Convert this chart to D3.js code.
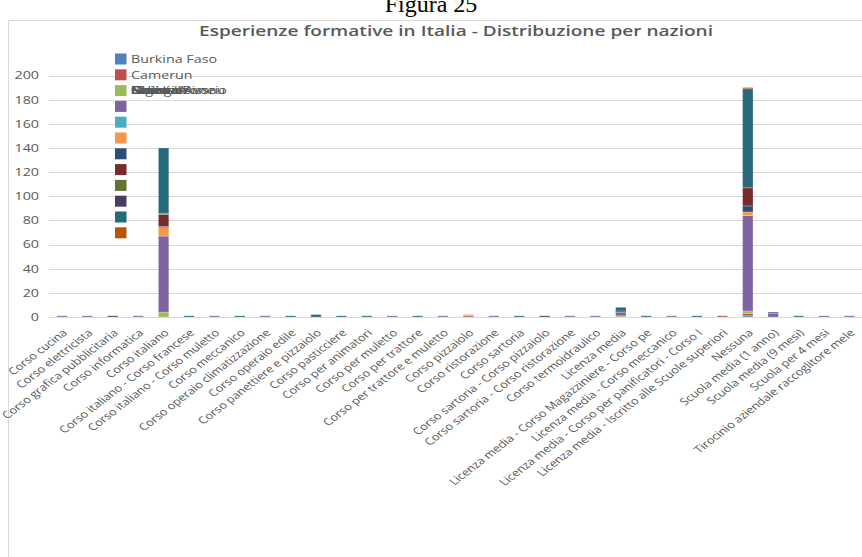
<!DOCTYPE html>
<html>
<head>
<meta charset="utf-8">
<script src="https://cdn.jsdelivr.net/npm/d3@7/dist/d3.min.js"></script>
<style>
  html, body { margin: 0; padding: 0; background: #fff; }
  svg { display: block; }
  text { font-family: "Open Sans", sans-serif; fill: #595959; }
</style>
</head>
<body>
<svg id="chart" width="862" height="557"></svg>
<script>
// Training experiences in Italy, stacked by nationality
const categories = [
  "Corso cucina", "Corso elettricista", "Corso grafica pubblicitaria", "Corso informatica",
  "Corso italiano", "Corso italiano - Corso francese", "Corso italiano - Corso muletto",
  "Corso meccanico", "Corso operaio climatizzazione", "Corso operaio edile",
  "Corso panettiere e pizzaiolo", "Corso pasticciere", "Corso per animatori",
  "Corso per muletto", "Corso per trattore", "Corso per trattore e muletto",
  "Corso pizzaiolo", "Corso ristorazione", "Corso sartoria",
  "Corso sartoria - Corso pizzaiolo", "Corso sartoria - Corso ristorazione",
  "Corso termoidraulico", "Licenza media", "Licenza media - Corso Magazziniere - Corso pe",
  "Licenza media - Corso meccanico", "Licenza media - Corso per panificatori - Corso I",
  "Licenza media - Iscritto alle Scuole superiori", "Nessuna", "Scuola media (1 anno)",
  "Scuola media (9 mesi)", "Scuola per 4 mesi", "Tirocinio aziendale raccoglitore mele"
];

const seriesNames = [
  "Burkina Faso", "Camerun", "Costa d'Avorio", "Gambia", "Ghana", "Guinea",
  "Guinea Bissau", "Mali", "Nigeria", "Pakistan", "Senegal", "Sierra Leone"
];

const seriesColors = [
  "#4F81BD", "#C0504D", "#9BBB59", "#8064A2", "#4BACC6", "#F79646",
  "#2C4D75", "#772C2A", "#5F7530", "#4D3B62", "#276A7C", "#B65708"
];

// one array per nationality, aligned with categories
const burkinaFaso  = [0,0,0,0, 0,0,0,0,0,0, 0,0,0,0,0,0, 0,0,0,0,0,0, 0,0,0,0,0, 1,0,0,0,0];
const camerun      = [0,0,0,0, 0,0,0,0,0,0, 0,0,0,0,0,0, 1,0,0,0,0,0, 0,0,0,0,1, 2,0,0,0,0];
const costaAvorio  = [0,0,0,0, 4,0,0,0,0,0, 0,0,0,0,0,0, 0,0,0,0,0,0, 1,0,0,0,0, 2,0,0,0,0];
const gambia       = [1,1,0,1,63,0,1,0,1,0, 0,0,0,1,0,1, 0,1,0,0,1,1, 3,0,1,0,0,79,3,0,1,1];
const ghana        = [0,0,0,0, 0,0,0,0,0,0, 0,0,0,0,0,0, 0,0,0,0,0,0, 0,0,0,0,0, 0,0,0,0,0];
const guinea       = [0,0,0,0, 7,0,0,0,0,0, 0,0,0,0,0,0, 1,0,0,0,0,0, 0,0,0,0,0, 3,0,0,0,0];
const guineaBissau = [0,0,1,0, 1,0,0,0,0,0, 0,0,0,0,0,0, 0,0,0,0,0,0, 0,0,0,0,0, 5,1,0,0,0];
const mali         = [0,0,0,0,10,0,0,0,0,0, 0,0,0,0,0,0, 0,0,0,0,0,0, 1,0,0,0,0,15,0,0,0,0];
const nigeria      = [0,0,0,0, 1,0,0,0,0,0, 0,0,0,0,0,0, 0,0,0,0,0,0, 0,0,0,0,0, 0,0,0,0,0];
const pakistan     = [0,0,0,0, 0,0,0,0,0,0, 0,0,0,0,0,0, 0,0,0,1,0,0, 0,0,0,0,0, 0,0,0,0,0];
const senegal      = [0,0,0,0,54,1,0,1,0,1, 2,1,1,0,1,0, 0,0,1,0,0,0, 3,1,0,1,0,82,0,1,0,0];
const sierraLeone  = [0,0,0,0, 0,0,0,0,0,0, 0,0,0,0,0,0, 0,0,0,0,0,0, 0,0,0,0,0, 1,0,0,0,0];

const seriesValues = [burkinaFaso, camerun, costaAvorio, gambia, ghana, guinea,
  guineaBissau, mali, nigeria, pakistan, senegal, sierraLeone];

const yTicks = [0, 20, 40, 60, 80, 100, 120, 140, 160, 180, 200];

// rows for d3.stack
const rows = categories.map((c, i) => {
  const r = { category: c };
  seriesNames.forEach((s, k) => { r[s] = seriesValues[k][i]; });
  return r;
});

const svg = d3.select("#chart");
const stretch = 1.3;

// figure caption above the chart area
svg.append("text")
  .attr("x", 431).attr("y", 12)
  .attr("text-anchor", "middle")
  .style("font-family", "'Liberation Serif', 'Times New Roman', serif")
  .style("font-size", "24px")
  .style("fill", "#000")
  .text("Figura 25");

// chart area frame
svg.append("path")
  .attr("d", "M8.5,557 V20.5 H862")
  .attr("fill", "none")
  .attr("stroke", "#d9d9d9");

svg.append("text")
  .attr("x", 456).attr("y", 36)
  .attr("text-anchor", "middle")
  .attr("textLength", 514)
  .attr("lengthAdjust", "spacingAndGlyphs")
  .style("font-size", "14px")
  .style("font-weight", "600")
  .text("Esperienze formative in Italia - Distribuzione per nazioni");

const x = d3.scaleBand()
  .domain(categories)
  .range([49.3, 862.1])
  .paddingInner(0.59)
  .paddingOuter(0.295);

const y = d3.scaleLinear().domain([0, 200]).range([317, 75.5]);

// gridlines
svg.append("g")
  .selectAll("line")
  .data(yTicks)
  .join("line")
  .attr("x1", 49).attr("x2", 862)
  .attr("y1", d => Math.round(y(d)) + 0.5)
  .attr("y2", d => Math.round(y(d)) + 0.5)
  .attr("stroke", "#d9d9d9")
  .attr("stroke-width", 1);

// y tick labels
svg.append("g")
  .selectAll("text")
  .data(yTicks)
  .join("text")
  .attr("transform", d => `translate(39,${y(d)}) scale(${stretch},1)`)
  .attr("dy", "0.35em")
  .attr("text-anchor", "end")
  .style("font-size", "11px")
  .text(d => d);

// stacked bars
const stack = d3.stack().keys(seriesNames);
const layers = stack(rows);

svg.append("g")
  .selectAll("g")
  .data(layers)
  .join("g")
  .attr("fill", (d, i) => seriesColors[i])
  .selectAll("rect")
  .data(d => d.filter(p => p[1] > p[0]))
  .join("rect")
  .attr("x", d => x(d.data.category))
  .attr("width", x.bandwidth())
  .attr("y", d => y(d[1]))
  .attr("height", d => y(d[0]) - y(d[1]))
  .attr("stroke", "#ffffff")
  .attr("stroke-opacity", 0.3)
  .attr("stroke-width", 0.8);

// category labels, slanted
svg.append("g")
  .selectAll("text")
  .data(categories)
  .join("text")
  .attr("transform", d => `translate(${x(d) + x.bandwidth() / 2 + 3},331) scale(${stretch},1) rotate(-45)`)
  .attr("dy", "0.35em")
  .attr("text-anchor", "end")
  .style("font-size", "10px")
  .text(d => d);

// legend: the first two entries on their own rows, the remaining names overlap on row three
const legend = svg.append("g");
const rowY = i => 59 + i * 15.8;
legend.selectAll("rect")
  .data(seriesNames)
  .join("rect")
  .attr("x", 115).attr("y", (d, i) => rowY(i) - 5.5)
  .attr("width", 11.5).attr("height", 11)
  .attr("fill", (d, i) => seriesColors[i]);

legend.selectAll("text")
  .data(seriesNames)
  .join("text")
  .attr("transform", (d, i) => `translate(131,${rowY(Math.min(i, 2))}) scale(${stretch},1)`)
  .attr("dy", "0.35em")
  .style("font-size", "11px")
  .text(d => d);
</script>
</body>
</html>
